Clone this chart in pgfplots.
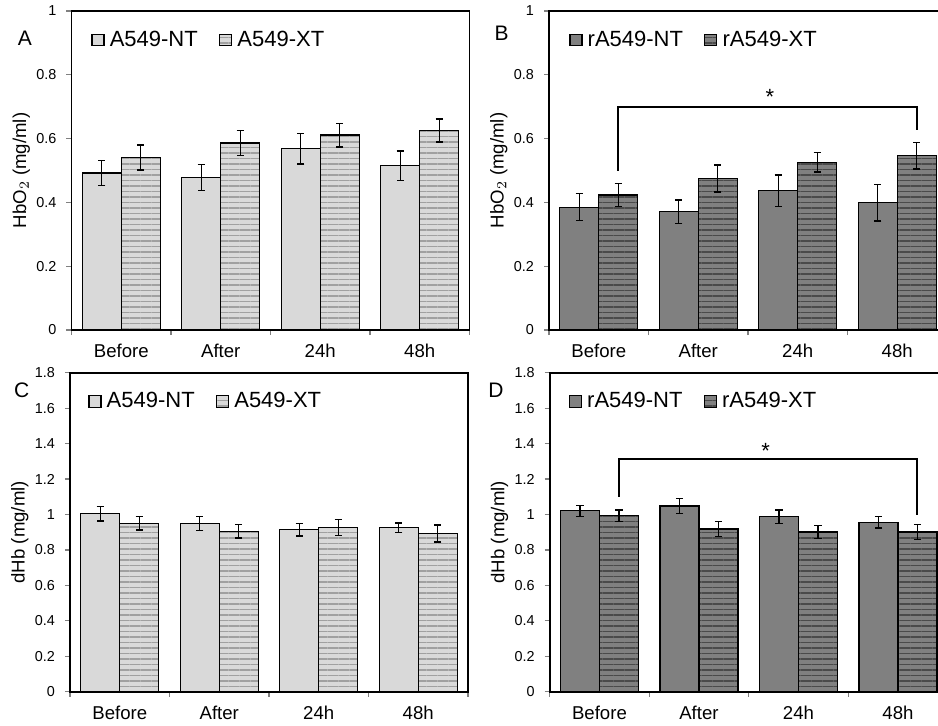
\documentclass[border=0pt]{standalone}
\usepackage{fontspec}
\setmainfont{Liberation Sans}
\usepackage{pgfplots}
\pgfplotsset{compat=1.18}
\usetikzlibrary{patterns.meta}
\definecolor{ltgray}{HTML}{D9D9D9}
\definecolor{ltpat}{HTML}{A0A0A0}
\definecolor{dkgray}{HTML}{808080}
\definecolor{dkpat}{HTML}{4A4A4A}
\pgfplotsset{
  panel/.style={
    scale only axis, width=199pt, height=159.5pt,
    clip=false,
    ybar=0pt, bar width=19.5pt,
    xmin=0.5, xmax=4.5, ymin=0,
    xtick={0.5,1.5,2.5,3.5,4.5},
    x tick label as interval,
    xticklabels={Before,After,24h,48h},
    ytick pos=left, xtick pos=bottom,
    tick align=outside, major tick length=2.5pt,
    tick style={gray, line width=0.6pt},
    axis line style={line width=0.8pt},
    yticklabel style={font=\fontsize{7.2}{8}\selectfont, xshift=-1.5pt},
    xticklabel style={font=\fontsize{9.3}{11}\selectfont, yshift=-1pt},
    /pgf/number format/assume math mode=true,
    ylabel style={font=\fontsize{9.3}{11}\selectfont, at={(axis description cs:-0.126,0.5)}, anchor=center},
    legend style={draw=none, fill=none, inner sep=0pt, anchor=west,
      font=\fontsize{11}{13}\selectfont, legend columns=2,
      nodes={inner xsep=2.6pt},
      /tikz/every even column/.append style={column sep=8pt}},
    legend image code/.code={\draw[#1, draw=black, line width=0.6pt] (0pt,-2.9pt) rectangle (6pt,2.9pt);},
    every axis plot/.append style={draw=black, line width=0.6pt},
  },
  eb/.style={
    error bars/y dir=both, error bars/y explicit,
    error bars/error bar style={black, line width=0.7pt},
    error bars/error mark options={rotate=90, mark size=1.8pt, black, line width=0.7pt}},
  ntlight/.style={eb, fill=ltgray},
  xtlight/.style={eb, fill=ltgray, postaction={pattern={Lines[distance=2.75pt, angle=0, line width=0.85pt]}, pattern color=ltpat}},
  ntdark/.style={eb, fill=dkgray},
  xtdark/.style={eb, fill=dkgray, postaction={pattern={Lines[distance=2.75pt, angle=0, line width=0.85pt]}, pattern color=dkpat}},
}
\tikzset{letter/.style={font=\fontsize{10.5}{12}\selectfont, anchor=center}}
\begin{document}
\begin{tikzpicture}
\useasboundingbox (0,0) rectangle (469pt,362.5pt);
\clip (0,0) rectangle (469pt,362.5pt);

% Panel A
\begin{axis}[panel, at={(35.75pt,197.5pt)}, anchor=south west,
  ymax=1, ytick={0,0.2,0.4,0.6,0.8,1},
  ylabel={HbO$_2$ (mg/ml)},
  legend style={at={(rel axis cs:0.049,0.909)}}]
\addplot[/pgfplots/ntlight] coordinates {(1,0.492) +- (0,0.039) (2,0.478) +- (0,0.041) (3,0.568) +- (0,0.048) (4,0.515) +- (0,0.046)};
\addplot[/pgfplots/xtlight] coordinates {(1,0.541) +- (0,0.039) (2,0.586) +- (0,0.039) (3,0.611) +- (0,0.037) (4,0.625) +- (0,0.036)};
\legend{A549-NT, A549-XT}
\node[letter] at ([xshift=-23.25pt, yshift=-13.5pt]rel axis cs:0,1) {A};
\end{axis}

% Panel B
\begin{axis}[panel, at={(274.5pt,197.5pt)}, anchor=south west,
  ymax=1, ytick={0,0.2,0.4,0.6,0.8,1},
  ylabel={HbO$_2$ (mg/ml)},
  legend style={at={(rel axis cs:0.05,0.909)}}]
\addplot[/pgfplots/ntdark] coordinates {(1,0.385) +- (0,0.042) (2,0.371) +- (0,0.037) (3,0.437) +- (0,0.049) (4,0.399) +- (0,0.057)};
\addplot[/pgfplots/xtdark] coordinates {(1,0.423) +- (0,0.036) (2,0.475) +- (0,0.042) (3,0.526) +- (0,0.031) (4,0.546) +- (0,0.041)};
\legend{rA549-NT, rA549-XT}
\draw[line width=1pt] (axis cs:1.196,0.50) -- (axis cs:1.196,0.70) -- (axis cs:4.196,0.70) -- (axis cs:4.196,0.627);
\node[font=\fontsize{11}{13}\selectfont] at ([yshift=-2pt]axis cs:2.72,0.743) {*};
\node[letter] at ([xshift=-23.65pt, yshift=-11pt]rel axis cs:0,1) {B};
\end{axis}

% Panel C
\begin{axis}[panel, at={(35pt,16.65pt)}, anchor=south west,
  ymax=1.8, ytick={0,0.2,0.4,0.6,0.8,1,1.2,1.4,1.6,1.8},
  ylabel={dHb (mg/ml)},
  legend style={at={(rel axis cs:0.045,0.91)}}]
\addplot[/pgfplots/ntlight] coordinates {(1,1.004) +- (0,0.040) (2,0.950) +- (0,0.040) (3,0.914) +- (0,0.036) (4,0.925) +- (0,0.028)};
\addplot[/pgfplots/xtlight] coordinates {(1,0.950) +- (0,0.037) (2,0.905) +- (0,0.038) (3,0.927) +- (0,0.044) (4,0.893) +- (0,0.048)};
\legend{A549-NT, A549-XT}
\node[letter] at ([xshift=-24.15pt, yshift=-8.65pt]rel axis cs:0,1) {C};
\end{axis}

% Panel D
\begin{axis}[panel, at={(274.85pt,16.65pt)}, anchor=south west,
  ymax=1.8, ytick={0,0.2,0.4,0.6,0.8,1,1.2,1.4,1.6,1.8},
  ylabel={dHb (mg/ml)},
  legend style={at={(rel axis cs:0.047,0.91)}}]
\addplot[/pgfplots/ntdark] coordinates {(1,1.021) +- (0,0.031) (2,1.048) +- (0,0.042) (3,0.987) +- (0,0.038) (4,0.957) +- (0,0.033)};
\addplot[/pgfplots/xtdark] coordinates {(1,0.993) +- (0,0.033) (2,0.918) +- (0,0.042) (3,0.901) +- (0,0.038) (4,0.901) +- (0,0.043)};
\legend{rA549-NT, rA549-XT}
\draw[line width=1pt] (axis cs:1.196,1.10) -- (axis cs:1.196,1.311) -- (axis cs:4.196,1.311) -- (axis cs:4.196,0.997);
\node[font=\fontsize{11}{13}\selectfont] at ([yshift=-2pt]axis cs:2.67,1.38) {*};
\node[letter] at ([xshift=-26.85pt, yshift=-8.65pt]rel axis cs:0,1) {D};
\end{axis}
\end{tikzpicture}
\end{document}
